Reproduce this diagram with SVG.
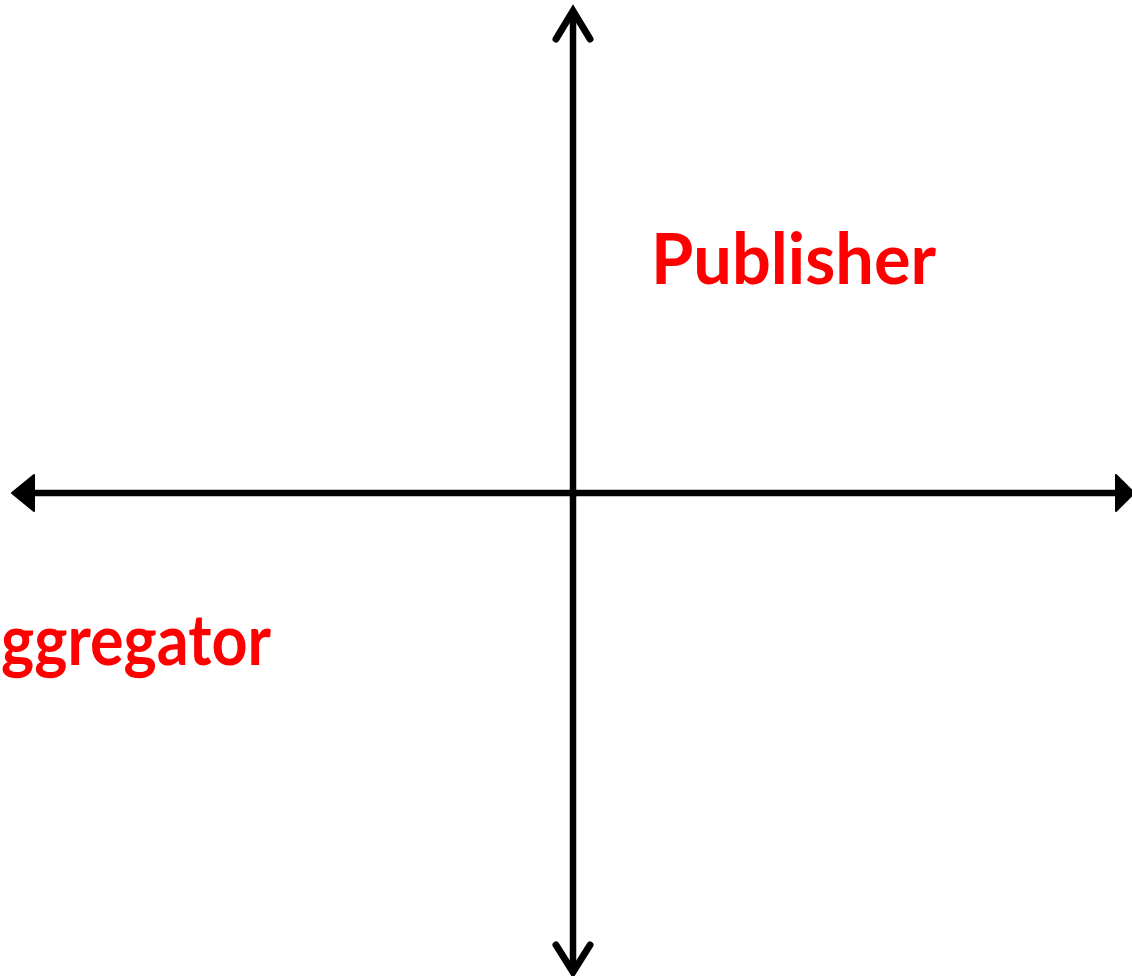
<svg xmlns="http://www.w3.org/2000/svg" width="1132" height="976" viewBox="0 0 1132 976">
<style>
.axis{stroke:#000;stroke-width:6.5;fill:none}
.head{stroke:#000;stroke-width:7;fill:none;stroke-linecap:round;stroke-linejoin:miter}
.tri{fill:#000;stroke:#000;stroke-width:2;stroke-linejoin:round}
.lbl{font-family:Lato,"Open Sans","Liberation Sans",sans-serif;font-weight:bold;font-size:70px;fill:#ff0000}
</style>
<rect width="1132" height="976" fill="#fff"/>
<g id="connectors">
<line class="axis" x1="573" y1="12" x2="573" y2="966"/>
<line class="axis" x1="20" y1="493" x2="1124" y2="493"/>
<path class="head" d="M556,39 L573,11 L590,39"/>
<path class="head" d="M556,945 L573,972 L590,945"/>
<path class="tri" d="M12,493 L34,475 L34,511 Z"/>
<path class="tri" d="M1134,493 L1116,475 L1116,511 Z"/>
</g>
<g id="publisher"><text class="lbl" x="651" y="284" textLength="285" lengthAdjust="spacingAndGlyphs">Publisher</text></g>
<g id="aggregator"><text class="lbl" x="1" y="665" textLength="270" lengthAdjust="spacingAndGlyphs">ggregator</text></g>
</svg>
